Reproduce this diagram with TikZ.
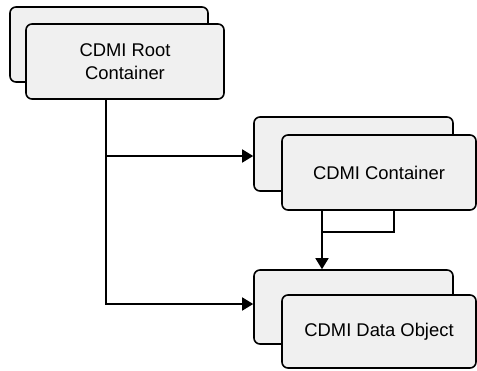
\documentclass[tikz,border=0pt]{standalone}
\usepackage{fontspec}
\setmainfont{Liberation Sans}
\usetikzlibrary{arrows.meta}
\definecolor{boxfill}{HTML}{F0F0F0}
\tikzset{
  card/.style={draw=black, fill=boxfill, line width=1.6pt, rounded corners=6pt,
    inner sep=0pt, align=center, font=\fontsize{18.4}{23}\selectfont},
  conn/.style={draw=black, line width=1.6pt},
  tip/.style={conn, -{Triangle[length=11pt,width=13pt]}}
}
\begin{document}
\begin{tikzpicture}[x=1pt,y=-1pt]
\useasboundingbox (0,0) rectangle (477,370);

% root container (stacked pair)
\node[card, minimum width=198pt, minimum height=75pt] (rb) at (109,44.5) {};
\node[card, minimum width=198pt, minimum height=75pt] (rf) at (125,61.5) {CDMI Root\\Container};

% container (stacked pair)
\node[card, minimum width=199pt, minimum height=74pt] (cb) at (353.5,154) {};
\node[card, minimum width=194pt, minimum height=75pt] (cf) at (379,172.5) {CDMI Container};

% data object (stacked pair)
\node[card, minimum width=199pt, minimum height=74pt] (db) at (353.5,307) {};
\node[card, minimum width=194pt, minimum height=73pt] (df) at (379,331.5) {CDMI Data Object};

% guide coordinates for the connectors
\coordinate (tx) at (106,0);
\coordinate (a1) at (106,156);
\coordinate (a2) at (106,304);
\coordinate (ux) at (394,0);
\coordinate (vx) at (322,0);
\coordinate (jy) at (0,232);

% trunk from the root container with two branches
\draw[tip] (tx |- rf.south) -- (a2) -- (db.west |- a2);
\draw[tip] (a1) -- (cb.west |- a1);

% container to data object
\draw[conn] (cf.south -| ux) -- (ux |- jy) -- (vx |- jy);
\draw[tip] (cf.south -| vx) -- (db.north -| vx);
\end{tikzpicture}
\end{document}
